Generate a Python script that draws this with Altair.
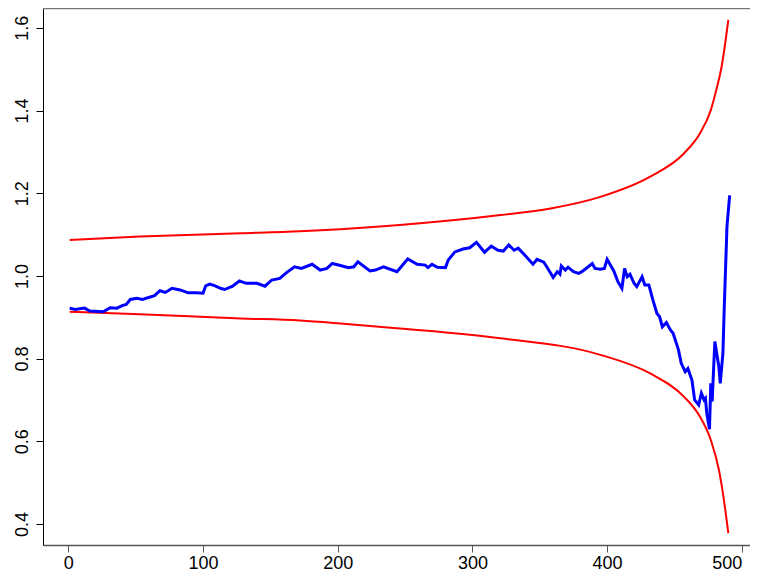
import altair as alt
import pandas as pd

# Blue series (index, value)
blue_x = [1, 5, 12, 16, 26, 31, 36, 40, 43, 46, 51, 55, 59, 64, 68, 72, 77, 83, 89, 95,
          100, 102, 105, 109, 113, 116, 122, 127, 132, 140, 146, 151, 157, 162, 168, 173,
          181, 187, 192, 196, 202, 208, 212, 215, 224, 228, 234, 244, 252, 259, 265, 267,
          270, 274, 280, 282, 287, 293, 298, 303, 309, 314, 319, 323, 327, 331, 334, 339,
          345, 348, 353, 356, 360, 363, 365, 366, 369, 371, 375, 379, 382, 386, 389, 391,
          395, 398, 400, 405, 408, 411, 413, 415, 417, 420, 422, 426, 428, 431, 434, 437,
          439, 441, 444, 447, 449, 453, 455, 458, 460, 463, 465, 468, 470, 472, 473, 474,
          476, 477, 478, 480, 483, 484, 486, 487, 488, 489, 491]
blue_y = [0.922, 0.919, 0.922, 0.915, 0.913, 0.923, 0.922, 0.928, 0.931, 0.943, 0.946, 0.943,
          0.947, 0.952, 0.964, 0.960, 0.970, 0.966, 0.959, 0.959, 0.958, 0.976, 0.980, 0.976,
          0.970, 0.967, 0.975, 0.988, 0.982, 0.982, 0.975, 0.990, 0.994, 1.008, 1.022, 1.018,
          1.028, 1.014, 1.018, 1.030, 1.025, 1.020, 1.022, 1.034, 1.012, 1.014, 1.022, 1.010,
          1.041, 1.028, 1.026, 1.020, 1.028, 1.021, 1.020, 1.038, 1.058, 1.065, 1.068, 1.081,
          1.057, 1.072, 1.062, 1.060, 1.075, 1.062, 1.067, 1.050, 1.028, 1.040, 1.033, 1.018,
          0.996, 1.010, 1.004, 1.024, 1.014, 1.021, 1.010, 1.006, 1.012, 1.022, 1.030, 1.018,
          1.016, 1.018, 1.040, 1.012, 0.986, 0.970, 1.018, 0.998, 1.004, 0.982, 0.974, 0.998,
          0.978, 0.978, 0.942, 0.909, 0.901, 0.877, 0.887, 0.869, 0.861, 0.821, 0.789, 0.768,
          0.776, 0.748, 0.700, 0.688, 0.716, 0.700, 0.704, 0.668, 0.629, 0.740, 0.696, 0.841,
          0.780, 0.740, 0.813, 0.925, 1.022, 1.119, 1.195]

# Red upper band
upper_x = [1, 53, 128, 172, 202, 246, 321, 358, 395, 432, 457, 469, 477, 481, 485, 488, 490]
upper_y = [1.087, 1.095, 1.103, 1.108, 1.113, 1.123, 1.147, 1.163, 1.191, 1.240, 1.296,
           1.345, 1.401, 1.449, 1.506, 1.570, 1.619]

# Red lower band
lower_x = [1, 53, 128, 172, 202, 246, 321, 395, 432, 457, 469, 477, 483, 486, 490]
lower_y = [0.913, 0.907, 0.897, 0.892, 0.885, 0.873, 0.849, 0.809, 0.764, 0.708, 0.659,
           0.603, 0.531, 0.474, 0.378]

x_ticks = [0, 100, 200, 300, 400, 500]
y_ticks = [0.4, 0.6, 0.8, 1.0, 1.2, 1.4, 1.6]

W, H = 707, 537

xscale = alt.Scale(domain=[-18.8, 506.1], nice=False, zero=False)
yscale = alt.Scale(domain=[0.349, 1.648], nice=False, zero=False)

xaxis = alt.Axis(values=x_ticks, title=None, grid=False, labelFont="Liberation Sans",
                 labelFontSize=18, labelColor="#000", tickSize=7, tickColor="#555",
                 domainColor="#555", domainWidth=1.5, labelPadding=2, labelBaseline="top",
                 labelFlush=10, format="d")
yaxis = alt.Axis(values=y_ticks, title=None, grid=False, labelFont="Liberation Sans",
                 labelFontSize=18, labelColor="#000", tickSize=7, tickColor="#000",
                 domainColor="#000", domainWidth=1, labelAngle=270, labelAlign="center",
                 labelBaseline="alphabetic", labelPadding=9, format=".1f")

blue_df = pd.DataFrame({"t": blue_x, "v": blue_y})
upper_df = pd.DataFrame({"t": upper_x, "v": upper_y})
lower_df = pd.DataFrame({"t": lower_x, "v": lower_y})

upper = alt.Chart(upper_df).mark_line(color="#FF0000", strokeWidth=2, interpolate="monotone").encode(
    x=alt.X("t:Q", scale=xscale, axis=xaxis),
    y=alt.Y("v:Q", scale=yscale, axis=yaxis),
)
lower = alt.Chart(lower_df).mark_line(color="#FF0000", strokeWidth=2, interpolate="monotone").encode(
    x=alt.X("t:Q", scale=xscale),
    y=alt.Y("v:Q", scale=yscale),
)
blue = alt.Chart(blue_df).mark_line(color="#0000FF", strokeWidth=3).encode(
    x=alt.X("t:Q", scale=xscale),
    y=alt.Y("v:Q", scale=yscale),
)
frame_top = alt.Chart(pd.DataFrame({"a": [0]})).mark_rule(color="#777", strokeWidth=1.5).encode(
    x=alt.value(0), x2=alt.value(W), y=alt.value(0.5)
)

chart = alt.layer(upper, lower, blue, frame_top).properties(
    width=W, height=H,
    autosize=alt.AutoSizeParams(type="none"),
    padding={"left": 35, "top": 0, "right": 0, "bottom": 30},
).configure_view(stroke=None).configure(background="white")

chart.save("out.html", embed_options={"renderer": "svg", "actions": False})
